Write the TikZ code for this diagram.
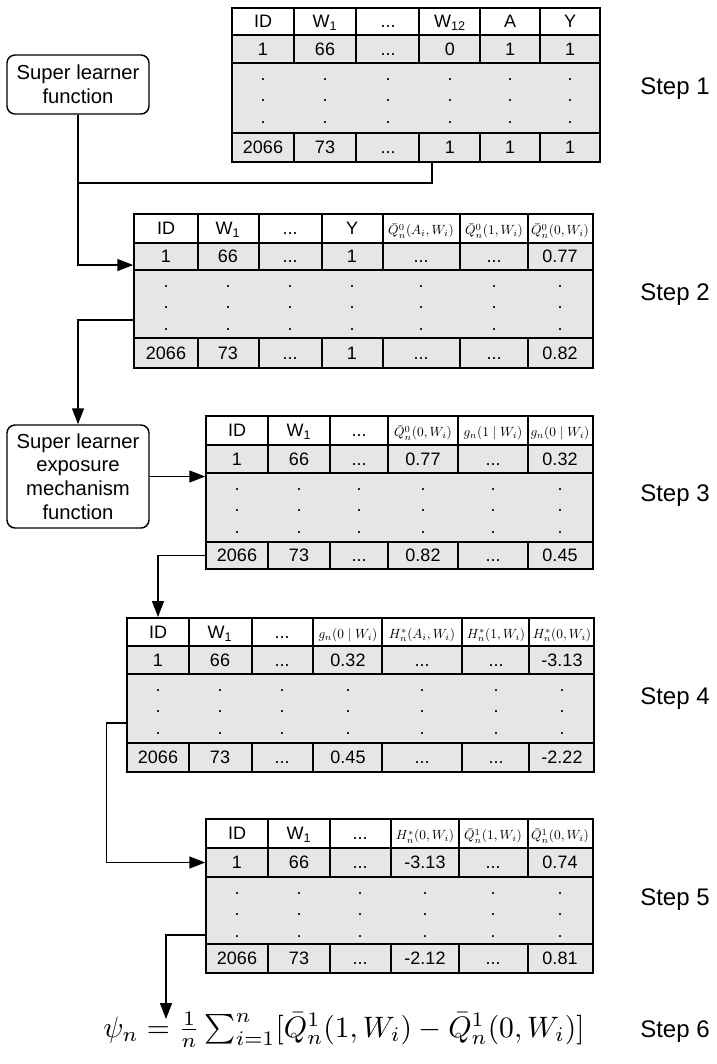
\documentclass[tikz,border=0pt]{standalone}
\usepackage{fontspec}
\setmainfont{Liberation Sans}
\usepackage{graphicx}
\usetikzlibrary{arrows.meta,fit}
\definecolor{cellgray}{RGB}{230,230,230}
\newcommand\dd{...}
\newcommand\hm{\fontsize{10pt}{12pt}\selectfont}
\tikzset{
  rowband/.style={inner sep=0pt, draw=black, line width=1.1pt, fill=cellgray},
  frame/.style={inner sep=0pt, draw=black, line width=1.5pt},
  gridline/.style={line width=1.1pt},
  cell/.style={inner sep=0pt, font=\fontsize{13.5pt}{16pt}\selectfont, text height=9.67pt, text depth=0pt},
  dotcell/.style={inner sep=0pt, font=\fontsize{13.5pt}{16pt}\selectfont, anchor=base},
  sbox/.style={draw, line width=1.1pt, rounded corners=6pt, align=center,
    font=\fontsize{15.2pt}{17.8pt}\selectfont, inner sep=0pt, minimum width=106.5pt},
  steplabel/.style={font=\fontsize{18pt}{21pt}\selectfont, anchor=base west, inner sep=0pt},
  conn/.style={line width=1.1pt},
  arr/.style={line width=1.1pt, -{Triangle[length=12pt,width=9pt]}}
}
% #1 name, #2 xl, #3 xr, #4 top, #5 header bottom, #6 row1 bottom, #7 dots bottom, #8 bottom, #9 inner x list
\newcommand\drawtab[9]{%
  \node[rowband, fill=white, fit={(#2,#4)(#3,#5)}] (#1h) {};
  \node[rowband, fit={(#2,#5)(#3,#6)}] (#1a) {};
  \node[rowband, fit={(#2,#6)(#3,#7)}] (#1d) {};
  \node[rowband, fit={(#2,#7)(#3,#8)}] (#1l) {};
  \foreach \xx in {#9} {\draw[gridline] (\xx,#4) -- (\xx,#6); \draw[gridline] (\xx,#7) -- (\xx,#8);}
  \node[frame, fit={(#2,#4)(#3,#8)}] (#1) {};
}
\newcommand\rowtext[3]{%
  \foreach \xx/\ct [count=\ci] in {#3} {\node[cell] (#1\ci) at (\xx,#2) {\ct};}
}
\newcommand\dotcol[3]{%
  \foreach \xx [count=\ci] in {#3} {
    \node[dotcell] (#1-\ci-1) at (\xx,#2+17) {.};
    \node[dotcell] (#1-\ci-2) at (\xx,#2+38) {.};
    \node[dotcell] (#1-\ci-3) at (\xx,#2+60) {.};
  }
}
\begin{document}
\begin{tikzpicture}[x=0.75pt,y=-0.75pt]
\fill[white] (0,0) rectangle (717,1064);
\useasboundingbox (0,0) rectangle (717,1064);

% Step 1
\drawtab{t1}{232}{600}{8}{35}{63}{133}{162}{294,356,419,480,540}
\rowtext{t1h}{21.5}{263/ID, 325/{W\textsubscript{1}}, 388/\dd, 450/{W\textsubscript{12}}, 510/A, 570/Y}
\rowtext{t1a}{49}{263/1, 325/66, 388/\dd, 450/0, 510/1, 570/1}
\dotcol{t1d}{63}{263,325,388,450,510,570}
\rowtext{t1l}{147.5}{263/2066, 325/73, 388/\dd, 450/1, 510/1, 570/1}

% Step 2
\drawtab{t2}{134}{593}{214}{243}{270}{338}{368}{198,259,322,383,460,528}
\rowtext{t2h}{228.5}{166/ID, 228/{W\textsubscript{1}}, 290/\dd, 352/Y, 421/{\hm$\bar{Q}^0_n(A_i,W_i)$}, 494/{\hm$\bar{Q}^0_n(1,W_i)$}, 560/{\hm$\bar{Q}^0_n(0,W_i)$}}
\rowtext{t2a}{256.5}{166/1, 228/66, 290/\dd, 352/1, 421/\dd, 494/\dd, 560/0.77}
\dotcol{t2d}{270}{166,228,290,352,421,494,560}
\rowtext{t2l}{353}{166/2066, 228/73, 290/\dd, 352/1, 421/\dd, 494/\dd, 560/0.82}

% Step 3
\drawtab{t3}{206}{593}{416}{445}{473}{542}{569}{268,330,388,458,528}
\rowtext{t3h}{430.5}{237/ID, 299/{W\textsubscript{1}}, 359/\dd, 423/{\hm$\bar{Q}^0_n(0,W_i)$}, 493/{\hm$g_n(1\mid W_i)$}, 560/{\hm$g_n(0\mid W_i)$}}
\rowtext{t3a}{459}{237/1, 299/66, 359/\dd, 423/0.77, 493/\dd, 560/0.32}
\dotcol{t3d}{473}{237,299,359,423,493,560}
\rowtext{t3l}{555.5}{237/2066, 299/73, 359/\dd, 423/0.82, 493/\dd, 560/0.45}

% Step 4
\drawtab{t4}{127}{594}{618}{646}{674}{743}{772}{189,252,313,382,462,529}
\rowtext{t4h}{632}{158/ID, 220/{W\textsubscript{1}}, 282/\dd, 348/{\hm$g_n(0\mid W_i)$}, 422/{\hm$H^*_n(A_i,W_i)$}, 496/{\hm$H^*_n(1,W_i)$}, 562/{\hm$H^*_n(0,W_i)$}}
\rowtext{t4a}{660}{158/1, 220/66, 282/\dd, 348/0.32, 422/\dd, 496/\dd, 562/-3.13}
\dotcol{t4d}{674}{158,220,282,348,422,496,562}
\rowtext{t4l}{757.5}{158/2066, 220/73, 282/\dd, 348/0.45, 422/\dd, 496/\dd, 562/-2.22}

% Step 5
\drawtab{t5}{206}{593}{819}{848}{877}{944}{973}{268,330,391,459,528}
\rowtext{t5h}{833.5}{237/ID, 299/{W\textsubscript{1}}, 360/\dd, 425/{\hm$H^*_n(0,W_i)$}, 493/{\hm$\bar{Q}^1_n(1,W_i)$}, 560/{\hm$\bar{Q}^1_n(0,W_i)$}}
\rowtext{t5a}{862.5}{237/1, 299/66, 360/\dd, 425/-3.13, 493/\dd, 560/0.74}
\dotcol{t5d}{877}{237,299,360,425,493,560}
\rowtext{t5l}{958.5}{237/2066, 299/73, 360/\dd, 425/-2.12, 493/\dd, 560/0.81}

% Boxes
\node[sbox, minimum height=44.25pt] (b1) at (78,84.5) {Super learner\\function};
\node[sbox, minimum height=77.25pt] (b2) at (78,476.5) {Super learner\\exposure\\mechanism\\function};

% Formula
\node[anchor=base west, inner sep=0pt] (f) at (103,1037)
  {\resizebox{361pt}{!}{$\psi_n = \frac{1}{n}\sum_{i=1}^{n}[\bar{Q}_n^1(1,W_i) - \bar{Q}_n^1(0,W_i)]$}};
\coordinate (ftop) at (166,1019);

% Step labels
\node[steplabel] (s1) at (640,94) {Step 1};
\node[steplabel] (s2) at (640,300) {Step 2};
\node[steplabel] (s3) at (640,501) {Step 3};
\node[steplabel] (s4) at (640,704) {Step 4};
\node[steplabel] (s5) at (640,905) {Step 5};
\node[steplabel] (s6) at (640,1037) {Step 6};

% Connectors
\coordinate (j1) at (78,183);
\draw[arr] (b1.south) |- ([yshift=-6.4pt]t2a.west);
\draw[conn] ([xshift=12pt]t1l.south) |- (j1);
\draw[arr] ([yshift=-12pt]t2d.west) -| (b2.north);
\draw[arr] (b2.east) -- (b2.east -| t3a.west);
\draw[arr] (t3l.west) -| (t4h1 |- t4.north);
\draw[arr] ([yshift=-10.9pt]t4d.west) -- ++(-20,0) |- (t5a.west);
\draw[arr] ([yshift=-18.4pt]t5d.west) -| (ftop);
\end{tikzpicture}
\end{document}
